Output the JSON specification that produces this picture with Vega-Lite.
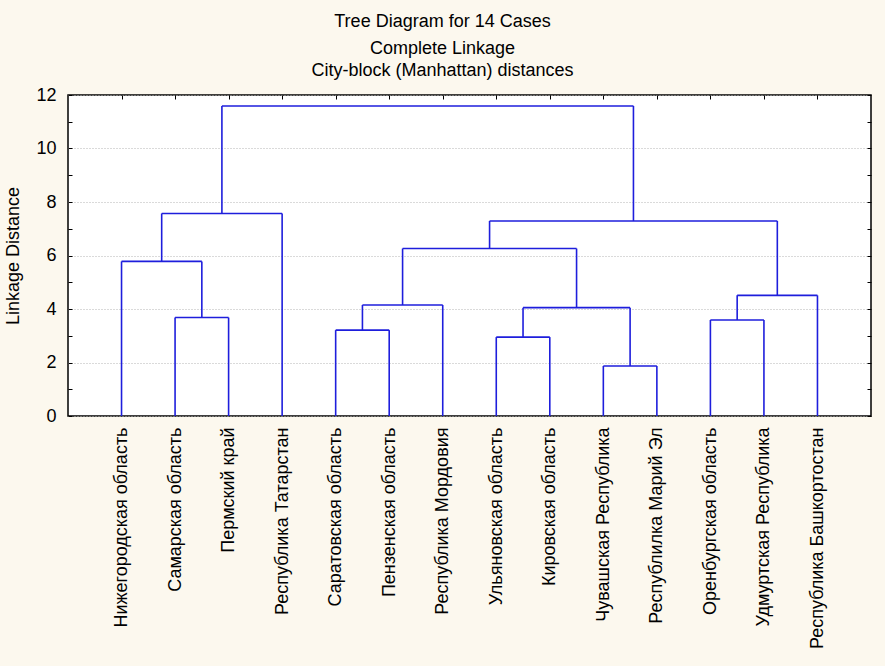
{
  "$schema": "https://vega.github.io/schema/vega-lite/v6.json",
  "width": 803,
  "height": 321,
  "autosize": {"type": "none"},
  "padding": {"left": 68, "top": 95, "right": 14, "bottom": 250},
  "background": "#FCF8EE",
  "title": {
    "text": "Tree Diagram for 14 Cases",
    "subtitle": ["Complete Linkage", "City-block (Manhattan) distances"],
    "anchor": "middle",
    "frame": "group",
    "dx": -27,
    "offset": 6,
    "font": "Liberation Sans",
    "fontSize": 18,
    "fontWeight": "normal",
    "color": "#000000",
    "subtitleFont": "Liberation Sans",
    "subtitleFontSize": 18,
    "subtitleColor": "#000000",
    "subtitlePadding": 9,
    "subtitleLineHeight": 22
  },
  "config": {
    "view": {"fill": "#FFFFFF", "stroke": "#000000", "strokeWidth": 1.5},
    "axis": {
      "labelFont": "Liberation Sans",
      "titleFont": "Liberation Sans",
      "labelColor": "#000000",
      "titleColor": "#000000",
      "domain": false
    }
  },
  "datasets": {
    "merges": [
      {"node": "A", "lx": 2, "rx": 3, "lh": 0, "rh": 0, "h": 3.68},
      {"node": "B", "lx": 1, "rx": 2.5, "lh": 0, "rh": 3.68, "h": 5.78},
      {"node": "C", "lx": 1.75, "rx": 4, "lh": 5.78, "rh": 0, "h": 7.57},
      {"node": "D", "lx": 5, "rx": 6, "lh": 0, "rh": 0, "h": 3.21},
      {"node": "E", "lx": 5.5, "rx": 7, "lh": 3.21, "rh": 0, "h": 4.15},
      {"node": "F", "lx": 8, "rx": 9, "lh": 0, "rh": 0, "h": 2.95},
      {"node": "G", "lx": 10, "rx": 11, "lh": 0, "rh": 0, "h": 1.87},
      {"node": "H", "lx": 8.5, "rx": 10.5, "lh": 2.95, "rh": 1.87, "h": 4.05},
      {"node": "I", "lx": 6.25, "rx": 9.5, "lh": 4.15, "rh": 4.05, "h": 6.26},
      {"node": "J", "lx": 12, "rx": 13, "lh": 0, "rh": 0, "h": 3.59},
      {"node": "K", "lx": 12.5, "rx": 14, "lh": 3.59, "rh": 0, "h": 4.51},
      {"node": "L", "lx": 7.875, "rx": 13.25, "lh": 6.26, "rh": 4.51, "h": 7.29},
      {"node": "M", "lx": 2.875, "rx": 10.5625, "lh": 7.57, "rh": 7.29, "h": 11.59}
    ]
  },
  "data": {"name": "merges"},
  "layer": [
    {
      "mark": {"type": "rule", "color": "#1E1EDC", "strokeWidth": 1.6},
      "encoding": {
        "x": {
          "field": "lx", "type": "quantitative",
          "scale": {"domain": [0, 15], "nice": false, "zero": false},
          "axis": {
            "orient": "bottom",
            "title": null,
            "values": [1, 2, 3, 4, 5, 6, 7, 8, 9, 10, 11, 12, 13, 14],
            "ticks": false,
            "grid": false,
            "labelAngle": -90,
            "labelAlign": "right",
            "labelBaseline": "middle",
            "labelPadding": 11,
            "labelFontSize": 18,
            "labelLimit": 0,
            "labelOverlap": false,
            "labelExpr": "['Нижегородская область','Самарская область','Пермский край','Республика Татарстан','Саратовская область','Пензенская область','Республика Мордовия','Ульяновская область','Кировская область','Чувашская Республика','Республилка Марий Эл','Оренбургская область','Удмуртская Республика','Республика Башкортостан'][datum.value - 1]"
          }
        },
        "y": {
          "field": "lh", "type": "quantitative",
          "scale": {"domain": [0, 12], "nice": false},
          "axis": {
            "orient": "left",
            "title": "Linkage Distance",
            "titleFontSize": 18,
            "titleFontWeight": "normal",
            "titlePadding": 13,
            "values": [0, 1, 2, 3, 4, 5, 6, 7, 8, 9, 10, 11, 12],
            "labelExpr": "datum.value % 2 == 0 ? datum.label : ''",
            "labelFontSize": 18,
            "tickSize": -4,
            "tickColor": "#000000",
            "labelPadding": 16,
            "grid": true,
            "gridColor": "#B4B4B4",
            "gridDash": [1, 2],
            "gridOpacity": {"condition": {"test": "datum.value % 2 == 1", "value": 0}, "value": 1}
          }
        },
        "y2": {"field": "h"}
      }
    },
    {
      "mark": {"type": "rule", "color": "#1E1EDC", "strokeWidth": 1.6},
      "encoding": {
        "x": {
          "field": "rx", "type": "quantitative",
          "axis": {
            "orient": "top",
            "title": null,
            "values": [1, 2, 3, 4, 5, 6, 7, 8, 9, 10, 11, 12, 13, 14],
            "labels": false,
            "grid": false,
            "tickSize": -4,
            "tickColor": "#000000"
          }
        },
        "y": {
          "field": "rh", "type": "quantitative",
          "axis": {
            "orient": "right",
            "title": null,
            "values": [0, 1, 2, 3, 4, 5, 6, 7, 8, 9, 10, 11, 12],
            "labels": false,
            "grid": false,
            "tickSize": -4,
            "tickColor": "#000000"
          }
        },
        "y2": {"field": "h"}
      }
    },
    {
      "mark": {"type": "rule", "color": "#1E1EDC", "strokeWidth": 1.6},
      "encoding": {
        "x": {"field": "lx", "type": "quantitative", "axis": null},
        "x2": {"field": "rx"},
        "y": {"field": "h", "type": "quantitative", "axis": null}
      }
    }
  ],
  "resolve": {"axis": {"x": "independent", "y": "independent"}}
}
